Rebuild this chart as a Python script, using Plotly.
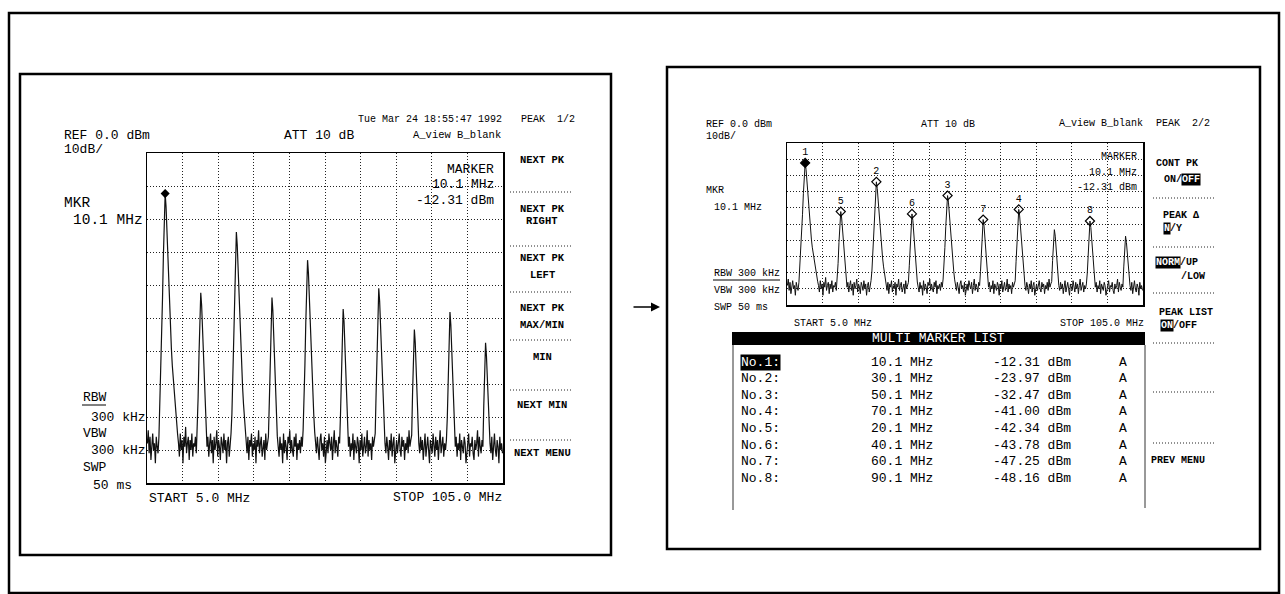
import numpy as np
import plotly.graph_objects as go

W, H = 1285, 594
MONO = "Liberation Mono, DejaVu Sans Mono, monospace"

# ---------------- data ----------------
SWEEP_START_MHZ = 5.1
SWEEP_STEP_MHZ = 0.25
LEVEL_DBM = (
    [-88, -84, -91, -86, -93, -87, -85, -90, -88, -94, -86, -89, -91, -86,
     -77.3, -67.3, -56.3, -44.3, -31.3, -19.3]
    + [-12.31, -16.3, -24.3, -33.3, -41.3, -48.3, -54.3, -59.3, -64.3, -68.3, -72.3, -76.3, -79.3, -82.3, -85.3,
       -88, -92, -85, -90, -87, -94, -86, -89, -83, -91, -88, -86, -93, -87, -90, -85, -92, -88, -89, -86, -91,
       -85, -74.3, -61.3, -49.3]
    + [-42.34, -46.3, -54.3, -63.3, -71.3, -78.3, -84.3,
       -89, -86, -92, -88, -85, -91, -87, -94, -86, -90, -88, -84, -92, -87, -89, -93, -86, -88, -91, -85,
       -90, -87, -94, -88, -86, -92, -89, -85,
       -79, -68, -56, -43, -31]
    + [-23.97, -28, -36, -45, -53, -60, -66, -71, -76, -80, -84,
       -88, -91, -86, -93, -87, -89, -85, -92, -88, -90, -86, -94, -87, -89, -84, -91, -88, -86, -92, -89,
       -87, -93, -85, -90, -88, -86,
       -75.8, -62.8, -50.8]
    + [-43.78, -47.8, -55.8, -64.8, -72.8, -79.8, -85.8,
       -89, -92, -86, -90, -88, -94, -85, -91, -87, -89, -93, -86, -88, -84, -91, -87, -90, -92, -86, -89,
       -85, -93, -88, -90, -87, -91, -86, -89, -84,
       -76.5, -64.5, -51.5, -39.5]
    + [-32.47, -36.5, -44.5, -53.5, -61.5, -68.5, -74.5, -79.5, -84.5,
       -88, -91, -86, -89, -93, -87, -85, -90, -88, -92, -86, -94, -89, -87, -91, -85, -88, -90, -86, -93,
       -88, -84, -91, -87, -89, -92, -86, -88,
       -79.3, -66.3, -54.3]
    + [-47.25, -51.3, -59.3, -68.3, -76.3, -83.3,
       -89, -86, -92, -88, -90, -85, -93, -87, -89, -91, -86, -88, -94, -87, -90, -85, -92, -88, -86, -91,
       -89, -84, -92, -87, -90, -88, -93, -86, -89, -87,
       -85, -73, -60, -48]
    + [-41.0, -45, -53, -62, -70, -77, -83,
       -88, -91, -86, -89, -93, -87, -90, -85, -92, -88, -86, -94, -89, -87, -91, -88, -85, -90, -92, -86,
       -89, -87, -93, -88, -90, -86, -91, -84, -89, -87,
       -85.5, -72.5, -60.5]
    + [-53.5, -57.5, -65.5, -74.5, -82.5,
       -88, -91, -86, -90, -87, -93, -89, -85, -92, -88, -86, -90, -94, -87, -89, -91, -85, -88, -92, -86,
       -90, -87, -93, -88, -84, -91, -89, -86, -92, -88, -90, -87,
       -80.2, -67.2, -55.2]
    + [-48.16, -52.2, -60.2, -69.2, -77.2, -84.2,
       -89, -86, -92, -88, -90, -85, -93, -87, -89, -91, -86, -88, -94, -90, -87, -85, -92, -88, -89, -86,
       -91, -93, -87, -90, -88, -84, -92, -86, -89, -91, -87, -89,
       -76.5, -64.5]
    + [-57.5, -61.5, -69.5, -78.5, -86.5,
       -88, -91, -86, -93, -89, -85, -90, -92, -87, -89, -94, -86, -90, -88, -91]
)
FREQ_MHZ = SWEEP_START_MHZ + SWEEP_STEP_MHZ * np.arange(len(LEVEL_DBM))

MARKER_NO = ["No.1:", "No.2:", "No.3:", "No.4:", "No.5:", "No.6:", "No.7:", "No.8:"]
MARKER_FREQ_MHZ = [10.1, 30.1, 50.1, 70.1, 20.1, 40.1, 60.1, 90.1]
MARKER_LEVEL_DBM = [-12.31, -23.97, -32.47, -41.00, -42.34, -43.78, -47.25, -48.16]
MARKER_TRACE = ["A"] * 8

START_MHZ, STOP_MHZ = 5.0, 105.0
REF_DBM, DB_PER_DIV, N_DIV = 0.0, 10, 10

# ---------------- helpers ----------------
def px(x):
    return x / W

def py(y):
    return 1 - y / H

ann = []
shp = []

def txt(x, y, s, size=13, anchor="left", color="black", bg=None, font=MONO):
    d = dict(x=px(x), y=py(y), xref="paper", yref="paper", text=s, showarrow=False,
             xanchor=anchor, yanchor="middle", borderpad=0,
             font=dict(family=font, size=size, color=color))
    if bg:
        d["bgcolor"] = bg
    ann.append(d)

def line(x0, y0, x1, y1, width=1, dash="solid", color="black"):
    shp.append(dict(type="line", xref="paper", yref="paper", x0=px(x0), y0=py(y0), x1=px(x1), y1=py(y1),
                    line=dict(color=color, width=width, dash=dash)))

def rect(x0, y0, x1, y1, width=2.5, fill=None, color="black"):
    d = dict(type="rect", xref="paper", yref="paper", x0=px(x0), y0=py(y0), x1=px(x1), y1=py(y1),
             line=dict(color=color, width=width))
    if fill:
        d["fillcolor"] = fill
    shp.append(d)

# ---------------- figure ----------------
fig = go.Figure()

fig.add_trace(go.Scatter(x=FREQ_MHZ, y=LEVEL_DBM, mode="lines", xaxis="x", yaxis="y",
                         line=dict(color="#111", width=1.2), showlegend=False, hoverinfo="skip"))
fig.add_trace(go.Scatter(x=MARKER_FREQ_MHZ[:1], y=MARKER_LEVEL_DBM[:1], mode="markers", xaxis="x", yaxis="y",
                         marker=dict(symbol="diamond", size=7, color="black"), showlegend=False))

fig.add_trace(go.Scatter(x=FREQ_MHZ, y=LEVEL_DBM, mode="lines", xaxis="x2", yaxis="y2",
                         line=dict(color="#111", width=1), showlegend=False, hoverinfo="skip"))
fig.add_trace(go.Scatter(x=MARKER_FREQ_MHZ, y=MARKER_LEVEL_DBM, mode="markers+text", xaxis="x2", yaxis="y2",
                         text=[str(i + 1) for i in range(len(MARKER_FREQ_MHZ))], textposition="top center",
                         textfont=dict(family=MONO, size=10, color="black"),
                         marker=dict(symbol=["diamond"] + ["diamond-open"] * 7, size=7, color="black",
                                     line=dict(color="black", width=1.2)),
                         showlegend=False))

GRID_DASH = "1px,2px"

def axis_x(dom):
    return dict(domain=dom, range=[START_MHZ, STOP_MHZ], tick0=START_MHZ, dtick=(STOP_MHZ - START_MHZ) / N_DIV,
                showgrid=True, gridcolor="#222", griddash=GRID_DASH, gridwidth=1, zeroline=False,
                showticklabels=False, ticks="", showline=True, linecolor="black", linewidth=1.5, mirror=True,
                fixedrange=True)

def axis_y(dom):
    return dict(domain=dom, range=[REF_DBM - DB_PER_DIV * N_DIV, REF_DBM], tick0=0, dtick=DB_PER_DIV,
                showgrid=True, gridcolor="#222", griddash=GRID_DASH, gridwidth=1, zeroline=False,
                showticklabels=False, ticks="", showline=True, linecolor="black", linewidth=1.5, mirror=True,
                fixedrange=True)

# ---------- frames ----------
rect(9, 13, 1279, 593, width=2.5)
rect(20, 74, 611, 555, width=2.5)
rect(667, 67, 1260, 549, width=2.5)

# arrow between panels
ann.append(dict(x=px(660), y=py(307), xref="paper", yref="paper", ax=-28, ay=0, text="", showarrow=True,
                arrowhead=2, arrowsize=1.2, arrowwidth=1.5, arrowcolor="black"))

# ---------- left panel ----------
txt(503, 119, "Tue Mar 24 18:55:47 1992", 10, anchor="right")
txt(520, 119, "PEAK  1/2", 10)
txt(63, 135, "REF 0.0 dBm", 13)
txt(283, 135, "ATT 10 dB", 13)
txt(412, 135, "A_view B_blank", 10.5)
txt(63, 149, "10dB/", 13)
txt(63, 203, "MKR", 14.5)
txt(72, 220, "10.1 MHz", 14.5)
txt(495, 170, "MARKER", 13, anchor="right")
txt(495, 185, "10.1 MHz", 13, anchor="right")
txt(495, 200, "-12.31 dBm", 13, anchor="right")
txt(82, 398, "RBW", 13)
line(82, 405, 106, 405, width=1)
txt(90, 417, "300 kHz", 13)
txt(82, 433, "VBW", 13)
txt(90, 450, "300 kHz", 13)
txt(82, 467, "SWP", 13)
txt(92, 485, "50 ms", 13)
txt(148, 498, "START 5.0 MHz", 13)
txt(503, 497, "STOP 105.0 MHz", 13, anchor="right")

SK_L = 542
for (yy, s) in [(160, "NEXT PK"), (209, "NEXT PK"), (221, "RIGHT"), (258, "NEXT PK"), (275, "LEFT"),
                (308, "NEXT PK"), (325, "MAX/MIN"), (357, "MIN"), (405, "NEXT MIN"), (453, "NEXT MENU")]:
    txt(SK_L, yy, "<b>" + s + "</b>", 10.5, anchor="center")
for yy in [192, 246, 292, 340, 390, 440]:
    line(510, yy, 573, yy, width=1, dash="1px,2px", color="#222")

# ---------- right panel ----------
txt(705, 125, "REF 0.0 dBm", 10)
txt(705, 136, "10dB/", 10)
txt(920, 125, "ATT 10 dB", 10)
txt(1058, 123, "A_view B_blank", 10)
txt(1155, 123, "PEAK  2/2", 10)
txt(705, 190, "MKR", 10)
txt(713, 208, "10.1 MHz", 10)
txt(713, 273, "RBW 300 kHz", 10)
line(713, 280, 780, 280, width=1)
txt(713, 290, "VBW 300 kHz", 10)
txt(713, 307, "SWP 50 ms", 10)
txt(1138, 157, "MARKER", 10, anchor="right")
txt(1138, 172, "10.1 MHz", 10, anchor="right")
txt(1138, 187, "-12.31 dBm", 10, anchor="right")
txt(793, 323, "START 5.0 MHz", 10)
txt(1145, 323, "STOP 105.0 MHz", 10, anchor="right")

# softkeys right
txt(1155, 163, "<b>CONT PK</b>", 10)
txt(1163, 180, "<b>ON/</b>", 10)
txt(1181, 180, "<b>OFF</b>", 10, color="white", bg="black")
txt(1162, 215, "<b>PEAK Δ</b>", 10)
txt(1163, 228, "<b>N</b>", 10, color="white", bg="black")
txt(1169, 228, "<b>/Y</b>", 10)
txt(1155, 263, "<b>NORM</b>", 10, color="white", bg="black")
txt(1179, 263, "<b>/UP</b>", 10)
txt(1180, 277, "<b>/LOW</b>", 10)
txt(1158, 312, "<b>PEAK LIST</b>", 10)
txt(1160, 325, "<b>ON</b>", 10, color="white", bg="black")
txt(1172, 325, "<b>/OFF</b>", 10)
txt(1150, 460, "<b>PREV MENU</b>", 10)
for yy in [198, 247, 293, 343, 392, 443]:
    line(1153, yy, 1214, yy, width=1, dash="1px,2px", color="#222")

# multi marker list table
rect(732, 332, 1145, 345, width=0, fill="black")
txt(938, 338.5, "MULTI MARKER LIST", 13, anchor="center", color="white")
line(733, 345, 733, 510, width=1, color="#333")
line(1145, 345, 1145, 508, width=1, color="#333")
ROW_Y0, ROW_DY = 362, 16.6
for i, (no, f, l, t) in enumerate(zip(MARKER_NO, MARKER_FREQ_MHZ, MARKER_LEVEL_DBM, MARKER_TRACE)):
    yy = ROW_Y0 + i * ROW_DY
    if i == 0:
        txt(740, yy, no, 13, color="white", bg="black")
    else:
        txt(740, yy, no, 13)
    txt(934, yy, f"{f:.1f} MHz", 13, anchor="right")
    txt(1072, yy, f"{l:.2f} dBm", 13, anchor="right")
    txt(1123, yy, t, 13, anchor="center")

fig.update_layout(
    width=W, height=H, margin=dict(l=0, r=0, t=0, b=0),
    paper_bgcolor="white", plot_bgcolor="white", showlegend=False,
    xaxis=axis_x([px(147), px(503)]), yaxis=axis_y([py(483), py(153)]),
    xaxis2=axis_x([px(787), px(1143)]), yaxis2=axis_y([py(305), py(143)]),
    annotations=ann, shapes=shp,
)
fig.update_layout(yaxis=dict(anchor="x"), yaxis2=dict(anchor="x2"), xaxis=dict(anchor="y"), xaxis2=dict(anchor="y2"))

fig.write_html("out.html", config={"displayModeBar": False, "staticPlot": True},
               post_script="document.body.style.margin='0';document.body.style.overflow='hidden';")
